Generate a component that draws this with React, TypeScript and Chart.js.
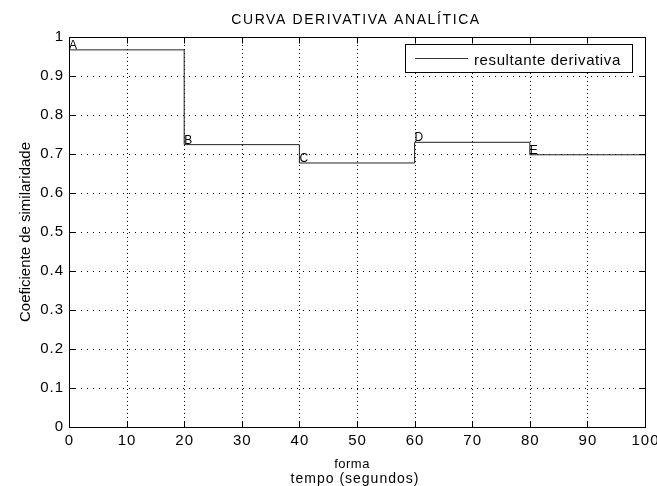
import React, { useEffect, useRef } from 'react';
import { Chart, registerables } from 'chart.js';

Chart.register(...registerables);

const chartTitle = 'CURVA DERIVATIVA ANALÍTICA';
const yAxisTitle = 'Coeficiente de similaridade';
const xAxisTitleLines = ['forma', 'tempo (segundos)'];
const seriesName = 'resultante derivativa';

const stepX = [0, 20, 40, 60, 80, 100];
const stepValues = [0.967, 0.724, 0.677, 0.73, 0.698, 0.698];
const pointLabels = ['A', 'B', 'C', 'D', 'E'];

const xTicks = [0, 10, 20, 30, 40, 50, 60, 70, 80, 90, 100];
const xTickLabels = ['0', '10', '20', '30', '40', '50', '60', '70', '80', '90', '100'];
const yTicks = [0, 0.1, 0.2, 0.3, 0.4, 0.5, 0.6, 0.7, 0.8, 0.9, 1];
const yTickLabels = ['0', '0.1', '0.2', '0.3', '0.4', '0.5', '0.6', '0.7', '0.8', '0.9', '1'];

const FONT = '"Liberation Sans", Arial, sans-serif';

const setSpacing = (ctx: any, v: string) => {
  try {
    ctx.letterSpacing = v;
  } catch (e) {}
};

const matlabPlugin = {
  id: 'matlabLook',
  beforeDatasetsDraw(chart: any) {
    const { ctx, chartArea: a, scales } = chart;
    const x = scales.x;
    const y = scales.y;
    ctx.save();
    ctx.strokeStyle = '#000';
    ctx.lineWidth = 1;
    ctx.setLineDash([1, 3]);
    xTicks.forEach((v) => {
      if (v <= x.min || v >= x.max) return;
      const px = Math.round(x.getPixelForValue(v)) + 0.5;
      ctx.beginPath();
      ctx.moveTo(px, a.top);
      ctx.lineTo(px, a.bottom);
      ctx.stroke();
    });
    ctx.setLineDash([1, 5]);
    yTicks.forEach((v) => {
      if (v <= y.min || v >= y.max) return;
      const py = Math.round(y.getPixelForValue(v)) + 0.5;
      ctx.beginPath();
      ctx.moveTo(a.left, py);
      ctx.lineTo(a.right, py);
      ctx.stroke();
    });
    ctx.restore();
  },
  afterDatasetsDraw(chart: any) {
    const { ctx, chartArea: a, scales } = chart;
    const x = scales.x;
    const y = scales.y;
    ctx.save();

    // point labels
    ctx.fillStyle = '#000';
    ctx.font = `12px ${FONT}`;
    ctx.textAlign = 'left';
    ctx.textBaseline = 'alphabetic';
    setSpacing(ctx, '0px');
    pointLabels.forEach((lab, i) => {
      const px = x.getPixelForValue(stepX[i]);
      const py = y.getPixelForValue(stepValues[i]);
      ctx.fillText(lab, px, py - 1);
    });

    // axes box
    const L = Math.round(a.left) + 0.5;
    const R = Math.round(a.right) + 0.5;
    const T = Math.round(a.top) + 0.5;
    const B = Math.round(a.bottom) + 0.5;
    ctx.strokeStyle = '#000';
    ctx.lineWidth = 1;
    ctx.setLineDash([]);
    ctx.strokeRect(L, T, R - L, B - T);

    // inner ticks
    const tl = 6;
    ctx.beginPath();
    xTicks.forEach((v) => {
      const px = Math.round(x.getPixelForValue(v)) + 0.5;
      ctx.moveTo(px, B);
      ctx.lineTo(px, B - tl);
      ctx.moveTo(px, T);
      ctx.lineTo(px, T + tl);
    });
    yTicks.forEach((v) => {
      const py = Math.round(y.getPixelForValue(v)) + 0.5;
      ctx.moveTo(L, py);
      ctx.lineTo(L + tl, py);
      ctx.moveTo(R, py);
      ctx.lineTo(R - tl, py);
    });
    ctx.stroke();

    // tick labels
    ctx.fillStyle = '#000';
    ctx.font = `15px ${FONT}`;
    setSpacing(ctx, '1px');
    ctx.textAlign = 'center';
    ctx.textBaseline = 'alphabetic';
    xTicks.forEach((v, i) => {
      const px = x.getPixelForValue(v);
      ctx.fillText(xTickLabels[i], px + 0.5, a.bottom + 18);
    });
    ctx.textAlign = 'right';
    ctx.textBaseline = 'middle';
    yTicks.forEach((v, i) => {
      const py = y.getPixelForValue(v);
      ctx.fillText(yTickLabels[i], a.left - 5, py);
    });

    // title
    ctx.font = `14px ${FONT}`;
    setSpacing(ctx, '1.6px');
    ctx.textAlign = 'center';
    ctx.textBaseline = 'alphabetic';
    ctx.fillText(chartTitle, 356, 24);

    // x axis title
    ctx.font = `13px ${FONT}`;
    setSpacing(ctx, '0.5px');
    ctx.fillText(xAxisTitleLines[0], 352, 468);
    ctx.font = `14px ${FONT}`;
    setSpacing(ctx, '1px');
    ctx.fillText(xAxisTitleLines[1], 355, 483);

    // y axis title
    ctx.save();
    ctx.translate(30, (a.top + a.bottom) / 2);
    ctx.rotate(-Math.PI / 2);
    ctx.font = `15px ${FONT}`;
    setSpacing(ctx, '0px');
    ctx.textAlign = 'center';
    ctx.textBaseline = 'alphabetic';
    ctx.fillText(yAxisTitle, 0, 0);
    ctx.restore();

    // legend
    const lx = 405.5, ly = 44.5, lw = 227, lh = 28;
    ctx.fillStyle = '#fff';
    ctx.fillRect(lx, ly, lw, lh);
    ctx.strokeStyle = '#000';
    ctx.strokeRect(lx, ly, lw, lh);
    ctx.strokeStyle = '#333';
    ctx.beginPath();
    ctx.moveTo(415, 58.5);
    ctx.lineTo(468, 58.5);
    ctx.stroke();
    ctx.fillStyle = '#000';
    ctx.font = `15px ${FONT}`;
    setSpacing(ctx, '0.6px');
    ctx.textAlign = 'left';
    ctx.textBaseline = 'alphabetic';
    ctx.fillText(seriesName, 474, 65);

    ctx.restore();
  },
};

export default function App() {
  const ref = useRef<HTMLCanvasElement | null>(null);

  useEffect(() => {
    const canvas = ref.current;
    if (!canvas) return;
    const points = stepX.map((v, i) => ({ x: v, y: stepValues[i] }));
    const chart = new Chart(canvas, {
      type: 'line',
      data: {
        datasets: [
          {
            label: seriesName,
            data: points,
            stepped: true,
            borderColor: '#222',
            borderWidth: 1,
            pointRadius: 0,
            fill: false,
          },
        ],
      },
      options: {
        animation: false,
        responsive: false,
        devicePixelRatio: 1,
        layout: { padding: { top: 37, right: 12, left: 0, bottom: 0 } },
        plugins: {
          legend: { display: false },
          title: { display: false },
          tooltip: { enabled: false },
        },
        scales: {
          x: {
            type: 'linear',
            min: 0,
            max: 100,
            ticks: { display: false, stepSize: 10 },
            grid: { display: false },
            border: { display: false },
            afterFit: (s: any) => {
              s.height = 59;
            },
          },
          y: {
            type: 'linear',
            min: 0,
            max: 1,
            ticks: { display: false, stepSize: 0.1 },
            grid: { display: false },
            border: { display: false },
            afterFit: (s: any) => {
              s.width = 69;
            },
          },
        },
      },
      plugins: [matlabPlugin],
    });
    return () => chart.destroy();
  }, []);

  return (
    <div style={{ position: 'absolute', left: 0, top: 0, width: 657, height: 486, background: '#fff' }}>
      <canvas ref={ref} width={657} height={486} style={{ display: 'block', width: 657, height: 486 }} />
    </div>
  );
}
